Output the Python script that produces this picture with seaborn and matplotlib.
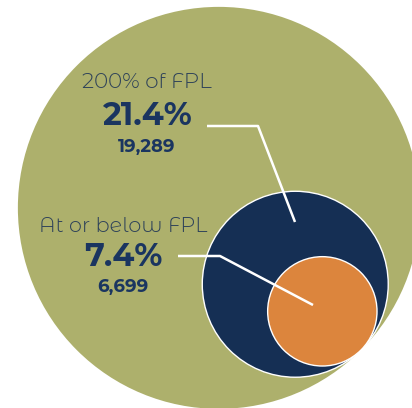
import numpy as np
import matplotlib
matplotlib.use("Agg")
import matplotlib.pyplot as plt
from matplotlib.patches import Circle
import seaborn as sns

# data
labels = ["200% of FPL", "At or below FPL"]
shares = [21.4, 7.4]          # percent of all children
counts = [19289, 6699]
total_share = 100.0

colors = {"total": "#ADB06C", "200% of FPL": "#152F54", "At or below FPL": "#DC853D"}
text_dark = "#1A3560"
text_label = "#2E4259"

sns.set_theme(style="white")
plt.rcParams["font.family"] = ["Montserrat Alternates", "Lato", "DejaVu Sans"]

fig = plt.figure(figsize=(4.12, 4.08), dpi=100)
ax = fig.add_axes([0, 0, 1, 1])
ax.set_xlim(0, 412)
ax.set_ylim(408, 0)
ax.set_aspect("equal")
ax.axis("off")

# circles are area-proportional and all touch at one point (lower right)
r_total = 201.0
tangent = np.array([361.0, 350.0])
direction = np.array([1.0, 1.0]) / np.sqrt(2)


def centre(radius):
    return tangent - radius * direction


ax.add_patch(Circle(centre(r_total), r_total, facecolor=colors["total"], edgecolor="none"))

radii = [r_total * np.sqrt(s / total_share) for s in shares]
for lab, r in zip(labels, radii):
    ax.add_patch(Circle(centre(r), r, facecolor=colors[lab], edgecolor="white", lw=1.0))

# text blocks (pixel layout)
text_x = [147, 123]
label_y = [83, 227]
pct_y = [116, 257]
count_y = [147, 287]
label_size = [15.5, 15]
for i, (lab, s, n) in enumerate(zip(labels, shares, counts)):
    x = text_x[i]
    ax.text(x, label_y[i], lab, ha="center", va="center", fontsize=label_size[i],
            color=text_label, fontweight=300)
    ax.text(x, pct_y[i], f"{s:.1f}%", ha="center", va="center", fontsize=23,
            color=text_dark, fontweight=700)
    ax.text(x, count_y[i], f"{n:,}", ha="center", va="center", fontsize=13,
            color=text_dark, fontweight=700)

# leader lines
leaders = [
    [(207, 126), (258, 126), (295, 222)],
    [(178, 256), (220, 256), (313, 305)],
]
for pts in leaders:
    xs, ys = zip(*pts)
    ax.plot(xs, ys, color="white", lw=1.8, solid_capstyle="butt")

fig.savefig("out.png", dpi=100)
